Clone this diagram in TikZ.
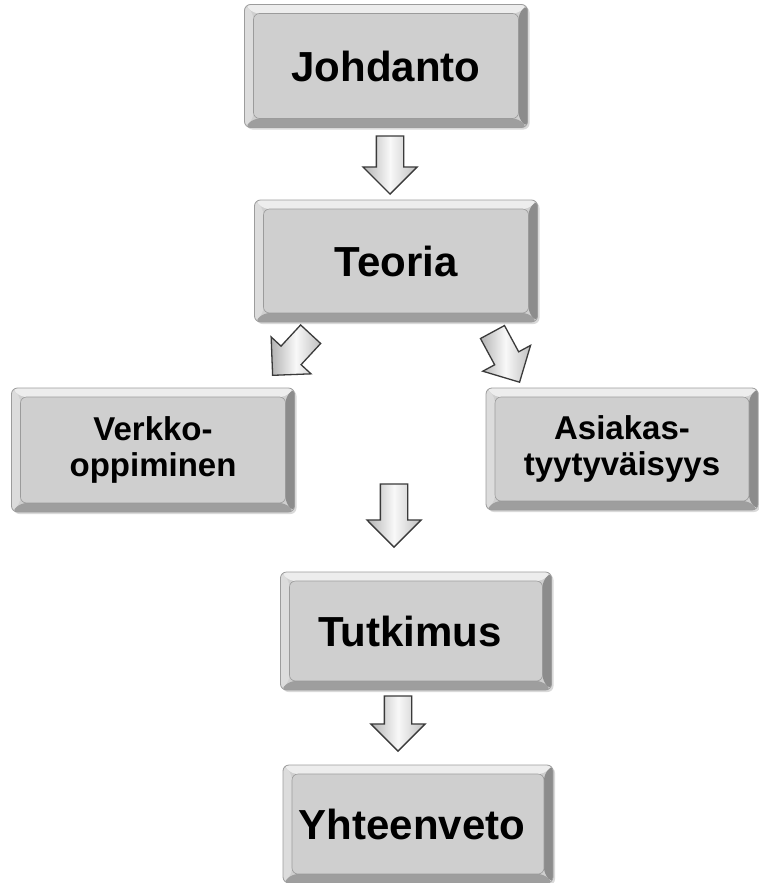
\documentclass[tikz,border=0pt]{standalone}
\usepackage{fontspec}
\setmainfont{Liberation Sans}
\usetikzlibrary{shapes.arrows,shadows,calc}
\definecolor{facegray}{HTML}{CFCFCF}
\definecolor{bordergray}{HTML}{9C9C9C}
\definecolor{bevtop}{HTML}{EDEDED}
\definecolor{bevleft}{HTML}{DCDCDC}
\definecolor{bevbot}{HTML}{9E9E9E}
\definecolor{bevright}{HTML}{8C8C8C}
\definecolor{arrowline}{HTML}{3A3A3A}
\begin{document}
\begin{tikzpicture}[x=1pt,y=-1pt,
  box/.style={rectangle, rounded corners=6pt, draw=bordergray, line width=0.8pt,
    fill=facegray, inner sep=0pt, align=center,
    drop shadow={shadow xshift=2pt, shadow yshift=-2pt, opacity=0.3},
    font=\bfseries\fontsize{42}{48}\selectfont,
    path picture={
      \path (path picture bounding box.south west) coordinate (pSW)
            (path picture bounding box.north east) coordinate (pNE)
            (path picture bounding box.north west) coordinate (pNW)
            (path picture bounding box.south east) coordinate (pSE);
      \fill[bevtop] (pNW) -- (pNE) -- ([shift={(-9pt,-9pt)}]pNE) -- ([shift={(9pt,-9pt)}]pNW) -- cycle;
      \fill[bevleft] (pNW) -- ([shift={(9pt,-9pt)}]pNW) -- ([shift={(9pt,9pt)}]pSW) -- (pSW) -- cycle;
      \fill[bevbot] (pSW) -- ([shift={(9pt,9pt)}]pSW) -- ([shift={(-9pt,9pt)}]pSE) -- (pSE) -- cycle;
      \fill[bevright] (pSE) -- ([shift={(-9pt,9pt)}]pSE) -- ([shift={(-9pt,-9pt)}]pNE) -- (pNE) -- cycle;
      \draw[facegray!75!black, line width=0.6pt] ([shift={(9pt,9pt)}]pSW) rectangle ([shift={(-9pt,-9pt)}]pNE);
    }},
  smallbox/.style={box, font=\bfseries\fontsize{33}{36}\selectfont},
  barrow/.style={single arrow, draw=arrowline, line width=1.3pt,
    minimum width=53pt, single arrow head extend=13.5pt, inner xsep=0pt, inner ysep=13pt,
    single arrow tip angle=90, sloped, allow upside down, anchor=tip,
    left color=gray!60, right color=gray!50, middle color=gray!5}
]
\useasboundingbox (0,0) rectangle (758,883);

\node[box, minimum width=283pt, minimum height=123pt] (johdanto) at (386,66) {Johdanto};
\node[box, minimum width=283pt, minimum height=122pt] (teoria) at (396,261) {Teoria};
\node[smallbox, minimum width=283pt, minimum height=124pt] (verkko) at (153,450) {Verkko-\\oppiminen};
\node[smallbox, minimum width=272pt, minimum height=122pt] (asiakas) at (622,449) {Asiakas-\\tyytyväisyys};
\node[box, minimum width=271pt, minimum height=118pt] (tutkimus) at (416,631) {\hspace*{-12pt}Tutkimus};
\node[box, minimum width=270pt, minimum height=118pt] (yhteenveto) at (418,824) {\hspace*{-12pt}Yhteenveto};

\coordinate (a1s) at (390,137); \coordinate (a1e) at (390,195);
\coordinate (a2s) at (309,336); \coordinate (a2e) at (272,376);
\coordinate (a3s) at (493,333); \coordinate (a3e) at (520,383);
\coordinate (a4s) at (394,483); \coordinate (a4e) at (394,548);
\coordinate (a5s) at (398,697); \coordinate (a5e) at (398,752);

\path (a1s) -- (a1e) node[pos=1, barrow, minimum height=58pt] {};
\path (a2s) -- (a2e) node[pos=1, barrow, minimum height=56pt] {};
\path (a3s) -- (a3e) node[pos=1, barrow, minimum height=57pt] {};
\path (a4s) -- (a4e) node[pos=1, barrow, minimum height=63pt] {};
\path (a5s) -- (a5e) node[pos=1, barrow, minimum height=55pt] {};
\end{tikzpicture}
\end{document}
